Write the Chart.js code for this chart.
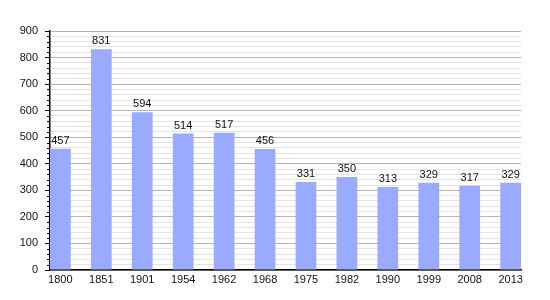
<!DOCTYPE html>
<html><head><meta charset="utf-8">
<script src="https://cdn.jsdelivr.net/npm/chart.js@4"></script>
<style>html,body{margin:0;padding:0;background:#fff}#w{width:550px;height:300px}</style>
</head><body><div id="w"><canvas id="c" width="550" height="300"></canvas></div>
<script>
const years = ["1800","1851","1901","1954","1962","1968","1975","1982","1990","1999","2008","2013"];
const population = [457,831,594,514,517,456,331,350,313,329,317,329];
const yTicks = [0,100,200,300,400,500,600,700,800,900];

const FONT = "'Liberation Sans', Arial, sans-serif";
const labelPlugin = {
  id: 'valLabels',
  afterDraw(chart) {
    const ctx = chart.ctx;
    const ys = chart.scales.y;
    ctx.save();
    ctx.strokeStyle = '#000';
    ctx.lineWidth = 1;
    ys.ticks.forEach(t => {
      if (t.value % 100 !== 0) {
        const py = Math.round(ys.getPixelForValue(t.value)) + 0.5;
        ctx.beginPath();
        ctx.moveTo(ys.right - 3, py);
        ctx.lineTo(ys.right, py);
        ctx.stroke();
      }
    });
    ctx.restore();
  },
  afterDatasetsDraw(chart) {
    const ctx = chart.ctx;
    const meta = chart.getDatasetMeta(0);
    ctx.save();
    ctx.font = "11px " + FONT;
    ctx.fillStyle = "#111";
    ctx.textAlign = "center";
    ctx.textBaseline = "alphabetic";
    meta.data.forEach((bar, i) => {
      ctx.fillText(String(population[i]), bar.x, bar.y - 5);
    });
    ctx.restore();
  }
};

new Chart(document.getElementById('c'), {
  type: 'bar',
  data: {
    datasets: [{
      data: population.map((v, i) => ({x: i, y: v})),
      backgroundColor: '#99aaff',
      borderWidth: 0,
      barPercentage: 0.506,
      categoryPercentage: 1
    }]
  },
  plugins: [labelPlugin],
  options: {
    responsive: false,
    animation: false,
    layout: {padding: {top: 31, right: 29, left: 0, bottom: 0}},
    plugins: {legend: {display: false}, tooltip: {enabled: false}},
    scales: {
      x: {
        type: 'linear',
        offset: false,
        min: -0.253,
        max: 11.253,
        afterBuildTicks(axis) { axis.ticks = years.map((y, i) => ({value: i})); },
        afterFit(axis) { axis.height = 30; },
        grid: {display: false, drawTicks: false, offset: false},
        border: {display: true, color: '#000', width: 1.5},
        ticks: {
          callback: (v) => years[v],
          color: '#111',
          font: {family: FONT, size: 11},
          padding: 3,
          maxRotation: 0,
          autoSkip: false
        }
      },
      y: {
        min: 0,
        max: 900,
        afterFit(axis) { axis.width = 50; },
        afterBuildTicks(axis) {
          const t = [];
          for (let v = 0; v <= 900; v += 20) t.push({value: v});
          axis.ticks = t;
        },
        grid: {
          color: (c) => (c.tick && c.tick.value % 100 === 0) ? '#b4b4b4' : '#e4e4e4',
          tickColor: (c) => (c.tick && c.tick.value % 100 === 0) ? '#000' : 'rgba(0,0,0,0)',
          tickLength: 5,
          lineWidth: 1
        },
        border: {display: true, color: '#000', width: 1.5},
        ticks: {
          callback: (v) => yTicks.includes(v) ? String(v) : '',
          color: '#111',
          font: {family: FONT, size: 11},
          padding: 7,
          autoSkip: false
        }
      }
    }
  }
});
</script></body></html>
